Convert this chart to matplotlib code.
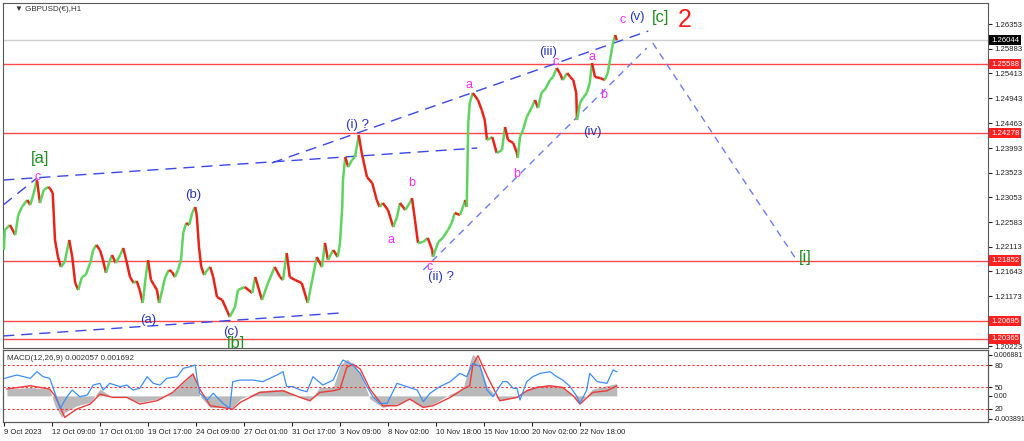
import matplotlib
matplotlib.use("Agg")
import matplotlib.pyplot as plt
import matplotlib.transforms as mtransforms
from matplotlib.collections import LineCollection

plt.rcParams['font.family'] = ['Liberation Sans', 'DejaVu Sans']

# ---- price path (H1 bar index, close) ----
bars = [0, 1, 8, 15, 19, 24, 31, 35, 39, 44, 48, 53, 59, 61, 65, 68, 72, 76, 81, 87,
        91, 95, 99, 104, 109, 115, 119, 123, 128, 132, 136, 140, 144, 149, 155, 159, 163,
        168, 173, 177, 181, 185, 189, 192, 196, 200, 204, 207, 211, 215, 220, 224, 228,
        232, 236, 239, 243, 247, 251, 255, 257, 260, 263, 267, 271, 275, 279, 284, 291,
        297, 301, 308, 312, 321, 331, 335, 344, 352, 361, 368, 372, 377, 381, 388, 397,
        405, 411, 417, 424, 428, 432, 439, 445, 448, 451, 452, 455, 459, 464, 468, 472,
        473, 477, 484, 491, 497, 501, 505, 512, 519, 524, 528, 535, 541, 544, 548, 552,
        559, 565, 571, 572, 579, 585, 592, 597, 601, 608, 612, 615, 617, 619, 621, 625,
        632, 637, 641, 644, 651, 657, 664, 668, 672, 679, 684, 685, 688, 692, 697, 704,
        708, 712, 717, 721, 728, 732, 737, 741, 745, 751, 755, 759, 763, 764, 768, 772,
        777, 781, 784, 788, 795, 801, 805, 808, 812, 815, 817]
closes = [1.22052, 1.22433, 1.22528, 1.22338, 1.22718, 1.22871, 1.23004, 1.22909, 1.23099,
          1.23384, 1.22947, 1.23194, 1.23251, 1.23232, 1.23137, 1.22243, 1.21919, 1.21729,
          1.21824, 1.22243, 1.21919, 1.21424, 1.21291, 1.21539, 1.21577, 1.21805, 1.22052,
          1.22148, 1.22052, 1.21862, 1.21615, 1.21805, 1.21957, 1.21805, 1.21957, 1.22090,
          1.21862, 1.21539, 1.21424, 1.21462, 1.21291, 1.21044, 1.21539, 1.21862, 1.21482,
          1.21386, 1.21291, 1.21044, 1.21291, 1.21539, 1.21672, 1.21634, 1.21539, 1.21672,
          1.21862, 1.22376, 1.22566, 1.22528, 1.22757, 1.22871, 1.22718, 1.22109, 1.21729,
          1.21577, 1.21672, 1.21729, 1.21539, 1.21158, 1.21101, 1.20911, 1.20778, 1.20968,
          1.21291, 1.21348, 1.21234, 1.21539, 1.21101, 1.21424, 1.21729, 1.21539, 1.21482,
          1.21995, 1.21539, 1.21482, 1.21424, 1.21044, 1.21482, 1.21919, 1.21729, 1.22186,
          1.21862, 1.22052, 1.21919, 1.22186, 1.22871, 1.23384, 1.23822, 1.23632, 1.23765,
          1.23822, 1.24146, 1.24241, 1.23898, 1.23441, 1.23327, 1.23004, 1.22871, 1.22947,
          1.22814, 1.22490, 1.22680, 1.22947, 1.22814, 1.22947, 1.23042, 1.22623, 1.22186,
          1.22205, 1.22281, 1.22052, 1.21919, 1.22205, 1.22281, 1.22433, 1.22566, 1.22757,
          1.22718, 1.22871, 1.23004, 1.22871, 1.24469, 1.24850, 1.25040, 1.24907, 1.24716,
          1.24526, 1.24146, 1.24203, 1.23898, 1.23955, 1.24393, 1.24146, 1.24089, 1.23898,
          1.23803, 1.24203, 1.24336, 1.24583, 1.24774, 1.24907, 1.24755, 1.25059, 1.25097,
          1.25287, 1.25344, 1.25516, 1.25420, 1.25287, 1.25420, 1.25344, 1.25287, 1.25040,
          1.24526, 1.24850, 1.24945, 1.25040, 1.25230, 1.25611, 1.25344, 1.25325, 1.25287,
          1.25420, 1.25668, 1.25991, 1.26144, 1.26044]

# horizontal levels
red_levels = [1.25588, 1.24278, 1.21852, 1.20695, 1.20365]
last_price = 1.26044
price_ticks = [1.26353, 1.25883, 1.25413, 1.24943, 1.24463, 1.23993, 1.23523,
               1.23053, 1.22583, 1.22113, 1.21643, 1.21173, 1.20223]

# trend lines: (bar0, price0, bar1, price1)
long_dash_lines = [(-1, 1.23384, 631, 1.23993),
                   (357, 1.23708, 859, 1.26220),
                   (-1, 1.20416, 448, 1.20853),
                   (-1, 1.22909, 44, 1.23422)]
short_dash_lines = [(559, 1.21672, 857, 1.25896),
                    (865, 1.25991, 1055, 1.21900)]

# wave labels: text, bar, price, style
wave_labels = [
    ("[a]", 48, 1.23803, "green"), ("c", 45, 1.23441, "pink"),
    ("(b)", 252, 1.23099, "blue"), ("(a)", 192, 1.20720, "blue"),
    ("(c)", 303, 1.20492, "blue"), ("[b]", 309, 1.20282, "green"),
    ("(i) ?", 471, 1.24431, "blue"), ("a", 516, 1.22243, "pink"),
    ("b", 543, 1.23327, "pink"), ("c", 568, 1.21729, "pink"),
    ("(ii) ?", 583, 1.21539, "blue"), ("a", 620, 1.25192, "pink"),
    ("b", 684, 1.23498, "pink"), ("(iii)", 725, 1.25820, "blue"),
    ("c", 736, 1.25630, "pink"), ("a", 784, 1.25725, "pink"),
    ("b", 799, 1.25002, "pink"), ("(iv)", 784, 1.24298, "blue"),
    ("c", 825, 1.26429, "pink"), ("(v)", 844, 1.26486, "blue"),
    ("[c]", 875, 1.26486, "green"), ("2", 907, 1.26429, "red"),
    ("[i]", 1068, 1.21900, "green"),
]

# ---- MACD pane ----
macd_bars = [4, 35, 61, 68, 77, 81, 97, 115, 128, 145, 164, 181, 204, 225, 244, 252, 261,
             275, 305, 315, 341, 372, 395, 408, 421, 439, 448, 457, 465, 475, 488, 505,
             524, 541, 559, 572, 595, 612, 621, 625, 632, 644, 661, 684, 697, 711, 728,
             745, 759, 768, 785, 804, 817]
macd_main = [0.00114, 0.00142, 0.00114, -0.00166, -0.00362, -0.00280, -0.00166, -0.00110,
             0.00114, -0.00026, -0.00026, -0.00110, -0.00054, 0.00058, 0.00283, 0.00395,
             0.00000, -0.00194, -0.00194, -0.00054, 0.00086, 0.00114, -0.00026, -0.00082,
             0.00142, 0.00142, 0.00507, 0.00619, 0.00535, 0.00395, -0.00054, -0.00194,
             -0.00138, -0.00054, -0.00194, -0.00138, 0.00030, 0.00114, 0.00563, 0.00704,
             0.00619, 0.00171, -0.00082, -0.00026, 0.00114, 0.00171, 0.00182, 0.00142,
             0.00000, -0.00110, 0.00114, 0.00171, 0.00206]
macd_signal = [0.00114, 0.00171, 0.00114, 0.00000, -0.00250, -0.00362, -0.00222, -0.00138,
               0.00030, -0.00026, -0.00026, -0.00138, -0.00082, 0.00058, 0.00283, 0.00367,
               0.00114, -0.00166, -0.00222, -0.00110, 0.00058, 0.00086, -0.00026, -0.00082,
               0.00058, 0.00086, 0.00114, 0.00479, 0.00535, 0.00451, 0.00114, -0.00166,
               -0.00166, -0.00054, -0.00194, -0.00166, -0.00026, 0.00114, 0.00171, 0.00507,
               0.00676, 0.00339, -0.00082, -0.00026, 0.00086, 0.00142, 0.00171, 0.00142,
               0.00000, -0.00138, 0.00058, 0.00086, 0.00169]
osc_bars = [1, 17, 35, 44, 52, 61, 65, 75, 84, 91, 101, 111, 119, 128, 132, 141, 155, 164,
            172, 181, 191, 199, 208, 217, 231, 239, 248, 255, 257, 261, 271, 279, 292, 301,
            305, 315, 332, 345, 364, 372, 377, 385, 395, 404, 412, 425, 439, 448, 452, 465,
            475, 484, 492, 501, 511, 524, 537, 551, 559, 568, 581, 595, 608, 617, 625, 635,
            644, 652, 665, 671, 679, 684, 688, 697, 705, 715, 728, 737, 745, 755, 764, 768,
            777, 781, 791, 804, 812, 817]
osc_vals = [61.8, 66.4, 61.8, 70.9, 64.1, 61.8, 50.5, 20.9, 36.8, 45.9, 36.8, 39.1, 52.7,
            55.0, 45.9, 55.0, 50.5, 52.7, 45.9, 48.2, 64.1, 55.0, 52.7, 61.8, 64.1, 75.5,
            77.7, 80.0, 64.1, 41.4, 32.3, 41.4, 27.7, 20.9, 57.3, 59.5, 59.5, 57.3, 66.4,
            70.9, 50.5, 50.5, 45.9, 43.6, 64.1, 52.7, 59.5, 80.0, 86.8, 80.0, 68.6, 50.5,
            36.8, 27.7, 27.7, 55.0, 50.5, 45.9, 30.0, 41.4, 50.5, 57.3, 68.6, 64.1, 82.3,
            77.7, 45.9, 36.8, 57.3, 57.3, 48.2, 48.2, 32.3, 57.3, 64.1, 68.6, 70.9, 64.1,
            59.5, 50.5, 36.8, 27.7, 45.9, 68.6, 57.3, 55.0, 73.2, 70.9]
osc_levels = [80, 50, 20]

date_bars = [0, 64, 128, 192, 256, 320, 384, 448, 512, 576, 640, 704, 768]
date_labels = ["9 Oct 2023", "12 Oct 09:00", "17 Oct 01:00", "19 Oct 17:00", "24 Oct 09:00",
               "27 Oct 01:00", "31 Oct 17:00", "3 Nov 09:00", "8 Nov 02:00", "10 Nov 18:00",
               "15 Nov 10:00", "20 Nov 02:00", "22 Nov 18:00"]

UP = "#5fd35f"
DOWN = "#e62418"
FRAME = "#5a5a5a"
TICK_FS = 5.6
styles = {
    "blue": dict(color="#2a36b8", fontsize=9.5),
    "pink": dict(color="#ff2bff", fontsize=9),
    "green": dict(color="#1f8f1f", fontsize=12),
    "red": dict(color="#ff1a1a", fontsize=18),
}

fig = plt.figure(figsize=(10.24, 4.41), dpi=100)
ax = fig.add_axes([3 / 1024, 1 - 348 / 441, 985 / 1024, 345 / 441])
ax.set_xlim(-1.3, 1312)
ax.set_ylim(1.20187, 1.26753)

for lv in red_levels:
    ax.axhline(lv, color="#ff4a4a", lw=1.0, zorder=1)
ax.axhline(last_price, color="#cfcfcf", lw=1.0, zorder=1)

segs, cols = [], []
for i in range(1, len(bars)):
    segs.append([(bars[i - 1], closes[i - 1]), (bars[i], closes[i])])
    cols.append(UP if closes[i] >= closes[i - 1] else DOWN)
ax.add_collection(LineCollection(segs, colors=cols, linewidths=1.8, zorder=3))

for b0, p0, b1, p1 in long_dash_lines:
    ax.plot([b0, b1], [p0, p1], color="#3a48e6", lw=1.0, dashes=(8, 5), zorder=2)
for b0, p0, b1, p1 in short_dash_lines:
    ax.plot([b0, b1], [p0, p1], color="#6f7cf0", lw=1.0, dashes=(5, 4), zorder=2)

for txt, b, p, st in wave_labels:
    ax.text(b, p, txt, ha="center", va="center", zorder=5, clip_on=True, **styles[st])

ax.text(0.012, 0.98, "\u25bc GBPUSD(\u20ac),H1", transform=ax.transAxes, fontsize=5.8,
        color="#333333", va="center", ha="left")

ax.yaxis.tick_right()
ax.set_yticks(price_ticks)
ax.set_yticklabels([f"{v:.5f}" for v in price_ticks])
ax.tick_params(axis="y", labelsize=TICK_FS, length=3, pad=1.5, colors="#222222")
ax.set_xticks([])
for s in ax.spines.values():
    s.set_color(FRAME)

blend = mtransforms.blended_transform_factory(ax.transAxes, ax.transData)
for lv in red_levels:
    ax.text(1.003, lv, f"{lv:.5f}", transform=blend, fontsize=TICK_FS, color="white",
            va="center", ha="left", zorder=6,
            bbox=dict(facecolor="#ff2020", edgecolor="none", pad=1.2))
ax.text(1.003, last_price, f"{last_price:.5f}", transform=blend, fontsize=TICK_FS,
        color="white", va="center", ha="left", zorder=6,
        bbox=dict(facecolor="black", edgecolor="none", pad=1.2))

# MACD pane
mx = fig.add_axes([3 / 1024, 1 - 422 / 441, 985 / 1024, 72 / 441])
mx.set_xlim(-1.3, 1312)
mx.set_ylim(-0.004396, 0.00772)
mx.fill_between(macd_bars, 0, macd_main, color="#b9b9b9", lw=0, zorder=1)
mx.plot(macd_bars, macd_signal, color="#f03a3a", lw=1.0, zorder=3)
mx.set_xticks(date_bars)
mx.set_xticklabels(date_labels, ha="left")
mx.tick_params(axis="x", labelsize=5.5, length=3, pad=2, colors="#222222")
mx.text(0.004, 0.88, "MACD(12,26,9) 0.002057 0.001692", transform=mx.transAxes,
        fontsize=5.8, color="#333333", va="center")

ox = mx.twinx()
ox.set_ylim(2.26, 100.5)
ox.plot(osc_bars, osc_vals, color="#3d8ff5", lw=0.9, zorder=2)
for lv in osc_levels:
    ox.axhline(lv, color="#ff3030", lw=0.8, dashes=(2, 2), zorder=1)
ox.set_yticks(osc_levels)
ox.set_yticklabels([str(v) for v in osc_levels])
ox.tick_params(axis="y", labelsize=TICK_FS, length=3, pad=1.5, colors="#222222")

# twinx moves the original ticks to the left, so put them back on the right
mx.yaxis.tick_right()
mx.set_yticks([0.006881, 0.0, -0.003891])
mx.set_yticklabels(["0.006881", "0.00", "-0.003891"])
mx.tick_params(axis="y", labelsize=5.0, length=3, pad=1.0, colors="#222222")
for a in (mx, ox):
    for s in a.spines.values():
        s.set_color(FRAME)

fig.savefig("out.png", dpi=100, facecolor="white")
